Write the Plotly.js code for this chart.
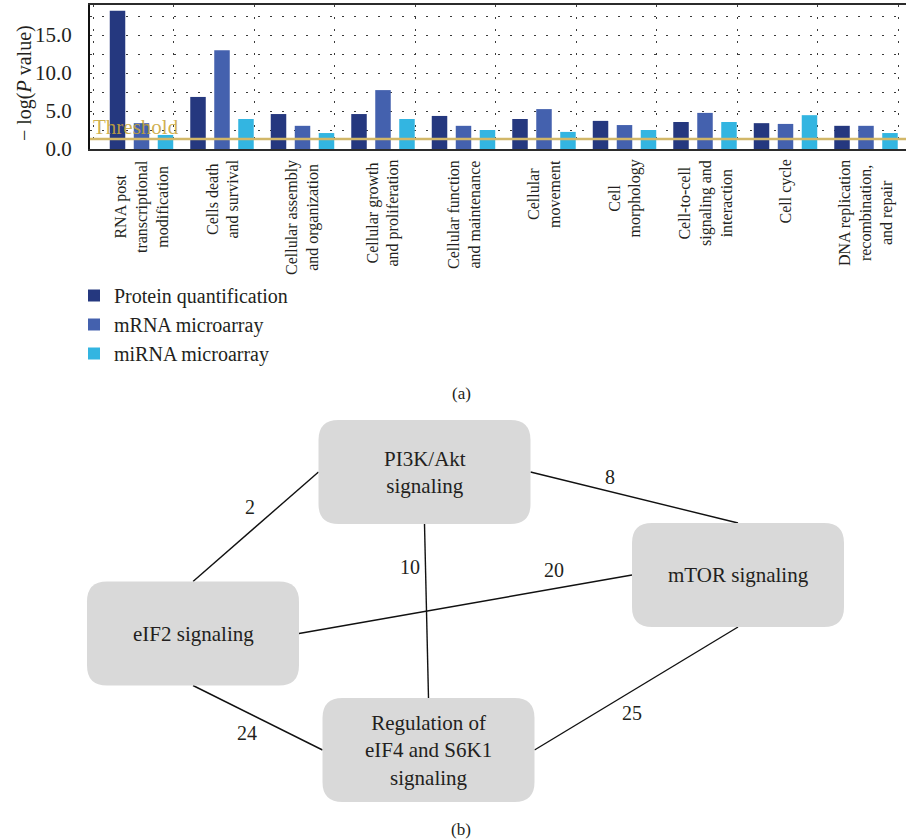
<!DOCTYPE html>
<html>
<head>
<meta charset="utf-8">
<script src="https://cdn.plot.ly/plotly-3.0.1.min.js"></script>
<style>html,body{margin:0;padding:0;background:#fff;}#chart{width:906px;height:840px;}</style>
</head>
<body>
<div id="chart"></div>
<script>
// ---------- data: panel (a) ----------
const categories = [
  'RNA post<br>transcriptional<br>modification',
  'Cells death<br>and survival',
  'Cellular assembly<br>and organization',
  'Cellular growth<br>and proliferation',
  'Cellular function<br>and maintenance',
  'Cellular<br>movement',
  'Cell<br>morphology',
  'Cell-to-cell<br>signaling and<br>interaction',
  'Cell cycle',
  'DNA replication<br>recombination,<br>and repair'
];
const seriesNames = ['Protein quantification', 'mRNA microarray', 'miRNA microarray'];
const proteinValues = [18.2, 6.85, 4.6, 4.6, 4.35, 3.95, 3.7, 3.55, 3.4, 3.05];
const mrnaValues    = [3.4, 13.0, 3.05, 7.75, 3.05, 5.25, 3.15, 4.75, 3.3, 3.05];
const mirnaValues   = [1.85, 3.95, 2.1, 3.95, 2.5, 2.25, 2.5, 3.55, 4.45, 2.1];
const thresholdValue = 1.3;
const yTickValues = [0, 5, 10, 15];

// ---------- data: panel (b) ----------
const nodeNames = ['PI3K/Akt<br>signaling', 'mTOR signaling', 'eIF2 signaling', 'Regulation of<br>eIF4 and S6K1<br>signaling'];
const edgeFrom = [0, 0, 0, 2, 2, 1];
const edgeTo   = [2, 1, 3, 1, 3, 3];
const edgeWeights = [2, 8, 10, 20, 24, 25];

// ---------- layout constants (positions in page pixels on the diagram axes) ----------
const NODE_CENTER = [[424.5, 472], [738, 575], [193, 633.5], [428.5, 750]];
const NODE_W = 212, NODE_H = 104, NODE_R = 20;
const EDGE_SIDES = [['L','T'], ['R','T'], ['B','T'], ['R','L'], ['B','L'], ['B','R']];
const EDGE_LABEL_POS = [[250, 507], [610, 477], [410, 567], [554, 570], [247, 733], [632, 713]];

const FONT = '"Liberation Serif"';
const TXT = '#231f20';
const W = 906, H = 840;
const COLORS = ['#25387f', '#4461ae', '#33b5e1'];

const xIdx = categories.map((_, i) => i);
const series = [proteinValues, mrnaValues, mirnaValues];
const traces = series.map((vals, k) => ({
  type: 'bar', x: xIdx, y: vals, name: seriesNames[k],
  marker: {color: COLORS[k], line: {width: 0}},
  hoverinfo: 'y', xaxis: 'x', yaxis: 'y'
}));

// network edges
function side(n, s) {
  const [cx, cy] = NODE_CENTER[n];
  if (s === 'L') return [cx - NODE_W / 2, cy];
  if (s === 'R') return [cx + NODE_W / 2, cy];
  if (s === 'T') return [cx, cy - NODE_H / 2];
  return [cx, cy + NODE_H / 2];
}
const ex = [], ey = [];
edgeFrom.forEach((f, i) => {
  const a = side(f, EDGE_SIDES[i][0]);
  const b = side(edgeTo[i], EDGE_SIDES[i][1]);
  ex.push(a[0], b[0], null); ey.push(a[1], b[1], null);
});
traces.push({
  type: 'scatter', mode: 'lines', x: ex, y: ey, xaxis: 'x2', yaxis: 'y2',
  line: {color: '#111', width: 1.4}, hoverinfo: 'skip', showlegend: false
});

// plot area in pixels
const PL = 90, PT = 5, PB = 149;
const pxPerCat = 80.5, firstCenter = 141.5;
const xr = [(PL - firstCenter) / pxPerCat, (W - firstCenter) / pxPerCat];
const pxPerUnit = 7.6;
const yr = [0, (PB - PT) / pxPerUnit];

const shapes = [
  {type: 'line', xref: 'x', yref: 'y', x0: xr[0], x1: xr[1], y0: thresholdValue, y1: thresholdValue,
   line: {color: '#d2b768', width: 2.5}, layer: 'above'}
];
NODE_CENTER.forEach(([cx, cy]) => {
  const x0 = cx - NODE_W / 2, x1 = cx + NODE_W / 2, y0 = cy - NODE_H / 2, y1 = cy + NODE_H / 2, r = NODE_R;
  const p = `M${x0 + r},${y0} L${x1 - r},${y0} Q${x1},${y0} ${x1},${y0 + r} L${x1},${y1 - r} Q${x1},${y1} ${x1 - r},${y1} ` +
            `L${x0 + r},${y1} Q${x0},${y1} ${x0},${y1 - r} L${x0},${y0 + r} Q${x0},${y0} ${x0 + r},${y0} Z`;
  shapes.push({type: 'path', xref: 'x2', yref: 'y2', path: p, fillcolor: '#d9d9d9', line: {width: 0}, layer: 'above'});
});

const annotations = [];
// category labels
categories.forEach((c, i) => {
  annotations.push({
    xref: 'x', yref: 'paper', x: i, y: (H - 158) / H, yanchor: 'top', xanchor: 'center',
    text: c, textangle: -90, align: 'center', showarrow: false,
    font: {family: FONT, size: 16, color: TXT}
  });
});
// threshold label
annotations.push({
  xref: 'paper', yref: 'paper', x: 91 / W, y: (H - 127) / H, xanchor: 'left', yanchor: 'middle',
  text: 'Threshold', showarrow: false, font: {family: FONT, size: 21, color: 'rgba(201,166,58,0.9)'}
});
// y title
annotations.push({
  xref: 'paper', yref: 'paper', x: 25 / W, y: (H - 83) / H, xanchor: 'center', yanchor: 'middle',
  text: '\u2212 log(<i>P</i> value)', textangle: -90, showarrow: false,
  font: {family: FONT, size: 20, color: TXT}
});
// panel labels
annotations.push({xref: 'paper', yref: 'paper', x: 461 / W, y: (H - 393) / H, xanchor: 'center', yanchor: 'middle',
  text: '(a)', showarrow: false, font: {family: FONT, size: 17, color: TXT}});
annotations.push({xref: 'paper', yref: 'paper', x: 461 / W, y: (H - 829) / H, xanchor: 'center', yanchor: 'middle',
  text: '(b)', showarrow: false, font: {family: FONT, size: 17, color: TXT}});
// node labels
nodeNames.forEach((n, i) => {
  annotations.push({xref: 'x2', yref: 'y2', x: NODE_CENTER[i][0], y: NODE_CENTER[i][1], xanchor: 'center', yanchor: 'middle',
    text: n, align: 'center', showarrow: false, font: {family: FONT, size: 21, color: TXT}});
});
// edge weights
edgeWeights.forEach((w, i) => {
  annotations.push({xref: 'x2', yref: 'y2', x: EDGE_LABEL_POS[i][0], y: EDGE_LABEL_POS[i][1], xanchor: 'center', yanchor: 'middle',
    text: String(w), showarrow: false, font: {family: FONT, size: 20, color: TXT}});
});

const gridDash = '2px,10px';
const layout = {
  width: W, height: H, margin: {l: 0, r: 0, t: 0, b: 0},
  paper_bgcolor: '#fff', plot_bgcolor: 'rgba(0,0,0,0)',
  font: {family: FONT, color: TXT},
  barmode: 'group', bargap: 0.106, bargroupgap: 0.354,
  showlegend: true,
  legend: {x: 74 / W, y: (H - 276) / H, xanchor: 'left', yanchor: 'top', orientation: 'v',
    font: {family: FONT, size: 20, color: TXT}, bgcolor: 'rgba(0,0,0,0)', itemclick: false, traceorder: 'normal',
    tracegroupgap: 0},
  xaxis: {
    domain: [PL / W, 1], range: xr, anchor: 'y', showgrid: false, zeroline: false,
    showticklabels: false, ticks: '', showline: true, linecolor: '#2b2b2b', linewidth: 2, mirror: true,
    minor: {tick0: 0.4, dtick: 1, showgrid: true, gridcolor: '#3a3a3a', griddash: gridDash, gridwidth: 1, ticks: ''},
    fixedrange: true
  },
  yaxis: {
    domain: [(H - PB) / H, (H - PT) / H], range: yr, anchor: 'x',
    tickmode: 'array', tickvals: yTickValues, ticktext: yTickValues.map(v => v.toFixed(1)),
    showgrid: true, gridcolor: '#3a3a3a', griddash: gridDash, gridwidth: 1,
    minor: {dtick: 2.5, showgrid: true, gridcolor: '#3a3a3a', griddash: gridDash, gridwidth: 1, ticks: ''},
    zeroline: false, showline: true, linecolor: '#111', linewidth: 2, ticks: '', ticklabelstandoff: 12,
    tickfont: {family: FONT, size: 21, color: TXT}, fixedrange: true
  },
  xaxis2: {domain: [0, 1], range: [0, W], anchor: 'y2', visible: false, fixedrange: true},
  yaxis2: {domain: [0, 1], range: [H, 0], anchor: 'x2', visible: false, fixedrange: true},
  shapes: shapes,
  annotations: annotations
};

Plotly.newPlot('chart', traces, layout, {displayModeBar: false, staticPlot: true});
</script>
</body>
</html>
